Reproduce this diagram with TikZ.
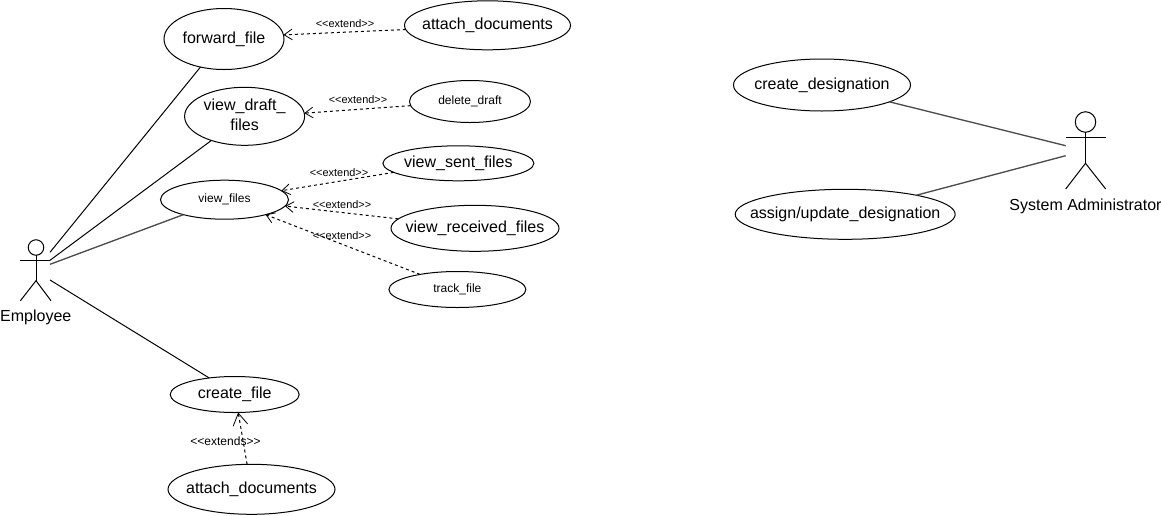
\documentclass[tikz,border=0pt]{standalone}
\usepackage{fontspec}
\setmainfont{Liberation Sans}
\usetikzlibrary{arrows.meta, shapes.geometric}
\newcommand{\ucbox}[1]{\makebox[0pt]{\raisebox{-0.9pt}{#1}}}
\tikzset{
  usecase/.style 2 args={ellipse, draw, inner sep=0pt, outer sep=0pt, minimum width=#1*0.75pt, minimum height=#2*0.75pt, font=\fontsize{12}{15}\selectfont},
  smallcase/.style 2 args={usecase={#1}{#2}, font=\fontsize{9}{11}\selectfont},
  actorhead/.style={circle, draw, inner sep=0pt, outer sep=0pt, minimum size=#1*0.75pt},
  actorlabel/.style={font=\fontsize{12}{15}\selectfont, inner sep=0pt},
  extlabel/.style={font=\fontsize{8.2}{10}\selectfont, inner sep=0pt},
  assoc/.style={line width=0.75pt},
  greyassoc/.style={line width=1pt, black!70},
  extarrow/.style={line width=0.75pt, dash pattern=on 2.25pt off 2.25pt, -{Straight Barb[length=6pt, width=8pt, line width=0.6pt]}},
}
\begin{document}
\begin{tikzpicture}[x=0.75pt, y=-0.75pt, line width=0.75pt]
\useasboundingbox (0,0) rectangle (1161,515);
% use cases, employee side
\node[usecase={120}{61}] (forward_file) at (224,39) {\ucbox{forward\_file}};
\node[usecase={166}{49}] (attach_documents) at (487.5,25.3) {\ucbox{attach\_documents}};
\node[usecase={120}{58}] (view_draft) at (244.6,116.3) {\ucbox{\begin{tabular}{@{}c@{}}view\_draft\_\\files\end{tabular}}};
\node[smallcase={121}{42}] (delete_draft) at (470,101.5) {\ucbox{delete\_draft}};
\node[usecase={151}{35}] (view_sent) at (458.4,163.3) {\ucbox{view\_sent\_files}};
\node[smallcase={128}{39}] (view_files) at (224.5,199.7) {\ucbox{view\_files}};
\node[usecase={168}{46}] (view_received) at (475,228.3) {\ucbox{view\_received\_files}};
\node[smallcase={137}{36}] (track_file) at (457.4,289.5) {\ucbox{track\_file}};
\node[usecase={129}{36}] (create_file) at (234.7,394.5) {\ucbox{create\_file}};
\node[usecase={167}{50}] (attach_create) at (251.5,489.3) {\ucbox{attach\_documents}};
% use cases, administrator side
\node[usecase={177}{52}] (create_designation) at (822,85) {\ucbox{create\_designation}};
\node[usecase={220}{50}] (assign_designation) at (845.2,214.3) {\ucbox{assign/update\_designation}};
% employee actor
\node[actorhead=15.5] (emp_head) at (36,247.5) {};
\coordinate (emp_neck) at (36,260.3);
\coordinate (emp_hip) at (36,280.7);
\draw (emp_head) -- (emp_hip);
\draw (20.4,260.3) -- (50.4,260.3);
\draw (20.4,300.7) -- (emp_hip) -- (51,300.7);
\node[actorlabel] (emp_label) at (35.8,317.5) {Employee};
\coordinate (emp_a) at (50,252.3);
\coordinate (emp_b) at (50,260.3);
\coordinate (emp_c) at (50,264.3);
\coordinate (emp_d) at (50,280);
% administrator actor
\node[actorhead=20.5] (adm_head) at (1085.5,122) {};
\coordinate (adm_hip) at (1085.5,163.3);
\draw (adm_head) -- (adm_hip);
\draw (1065.7,137.3) -- (1105.7,137.3);
\draw (1065.7,189) -- (adm_hip) -- (1105.7,189);
\node[actorlabel] (adm_label) at (1085.5,206.5) {System Administrator};
\coordinate (adm_a) at (1065.7,145.7);
\coordinate (adm_b) at (1065.7,155.7);
% associations
\draw[assoc] (emp_a) -- (forward_file.230);
\draw[assoc] (emp_b) -- (view_draft.216);
\draw[greyassoc] (emp_c) -- (view_files.200);
\draw[assoc] (emp_d) -- (create_file.147);
\draw[greyassoc] (adm_a) -- (create_designation.-14);
\draw[greyassoc] (adm_b) -- (assign_designation.15);
% extend arrows
\draw[extarrow] (attach_documents.183) -- (forward_file.4);
\draw[extarrow] (delete_draft.184) -- (view_draft.3);
\draw[extarrow] (view_sent.188) -- (view_files.9);
\draw[extarrow] (view_received.173) -- (view_files.-6);
\draw[extarrow] (track_file.158) -- (view_files.-20);
\draw[line width=0.75pt, dash pattern=on 2.25pt off 2.25pt, -{Straight Barb[length=9pt, width=11pt, line width=0.6pt]}] (attach_create.100) -- (create_file.-79);
\node[extlabel] (ext_a) at (345,23.3) {<{}<extend>{}>};
\node[extlabel] (ext_b) at (358,99.3) {<{}<extend>{}>};
\node[extlabel] (ext_c) at (339,172.3) {<{}<extend>{}>};
\node[extlabel] (ext_d) at (342,204.5) {<{}<extend>{}>};
\node[extlabel] (ext_e) at (342,235.5) {<{}<extend>{}>};
\node[extlabel, font=\fontsize{9}{11}\selectfont] (ext_f) at (225.5,441.7) {<{}<extends>{}>};
\end{tikzpicture}
\end{document}
